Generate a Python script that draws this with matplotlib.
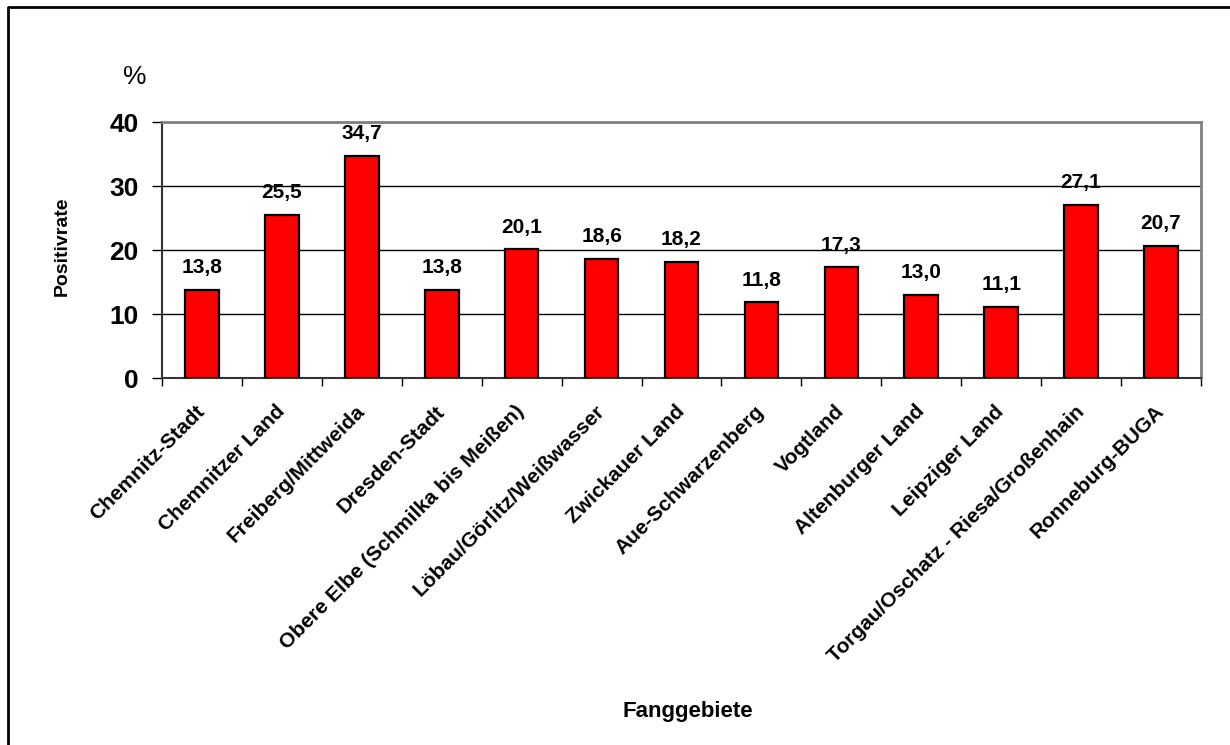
import matplotlib.pyplot as plt
from matplotlib.lines import Line2D

plt.rcParams['font.family'] = ['Liberation Sans', 'DejaVu Sans']

# Daten
gebiete = ["Chemnitz-Stadt", "Chemnitzer Land", "Freiberg/Mittweida", "Dresden-Stadt",
           "Obere Elbe (Schmilka bis Meißen)", "Löbau/Görlitz/Weißwasser", "Zwickauer Land",
           "Aue-Schwarzenberg", "Vogtland", "Altenburger Land", "Leipziger Land",
           "Torgau/Oschatz - Riesa/Großenhain", "Ronneburg-BUGA"]
positivrate = [13.8, 25.5, 34.7, 13.8, 20.1, 18.6, 18.2, 11.8, 17.3, 13.0, 11.1, 27.1, 20.7]
y_ticks = [0, 10, 20, 30, 40]

fig = plt.figure(figsize=(12.3, 7.45), dpi=100)
W, H = 1230, 745
ax = fig.add_axes([162 / W, 1 - 378 / H, (1201 - 162) / W, (378 - 122) / H])

x = list(range(len(gebiete)))
ax.bar(x, positivrate, width=0.42, color="#ff0000", edgecolor="black", linewidth=1.6, zorder=3)
for xi, v in zip(x, positivrate):
    ax.annotate(f"{v:.1f}".replace(".", ","), (xi, v), xytext=(0, 9), textcoords="offset points",
                ha="center", va="bottom", fontsize=15, fontweight="bold")

ax.set_xlim(-0.5, len(gebiete) - 0.5)
ax.set_ylim(0, 40)
ax.set_yticks(y_ticks)
ax.set_yticklabels([str(t) for t in y_ticks], fontsize=19, fontweight="bold")
ax.tick_params(axis="y", direction="out", length=7, width=1, pad=10, color="black")
ax.yaxis.grid(True, color="black", linewidth=1, zorder=1)
ax.set_axisbelow(True)

# Kategorien-Beschriftung, Ticks an den Grenzen
ax.set_xticks(x)
ax.set_xticklabels(gebiete, rotation=45, ha="right", va="center", rotation_mode="anchor",
                   fontsize=15, fontweight="bold")
ax.tick_params(axis="x", which="major", length=0, pad=22)
ax.set_xticks([i + 0.5 for i in range(-1, len(gebiete))], minor=True)
ax.tick_params(axis="x", which="minor", direction="out", length=6, width=1, color="black")

for s in ax.spines.values():
    s.set_color("#808080")
    s.set_linewidth(2)
ax.spines["bottom"].set_color("#333333")
ax.spines["bottom"].set_linewidth(1.5)
ax.spines["left"].set_color("#333333")
ax.spines["left"].set_linewidth(1.5)

fig.text(62 / W, 1 - 246 / H, "Positivrate", rotation=90, ha="center", va="center",
         fontsize=14, fontweight="bold")
fig.text(135 / W, 1 - 77 / H, "%", ha="center", va="center", fontsize=19)
fig.text(688 / W, 1 - 711 / H, "Fanggebiete", ha="center", va="center",
         fontsize=16, fontweight="bold")

# Rahmen links und oben
fig.add_artist(Line2D([8 / W, 8 / W, 1.0], [0.0, 1 - 7 / H, 1 - 7 / H],
                      transform=fig.transFigure, color="black", linewidth=2))

fig.savefig("out.png", dpi=100, facecolor="white")
